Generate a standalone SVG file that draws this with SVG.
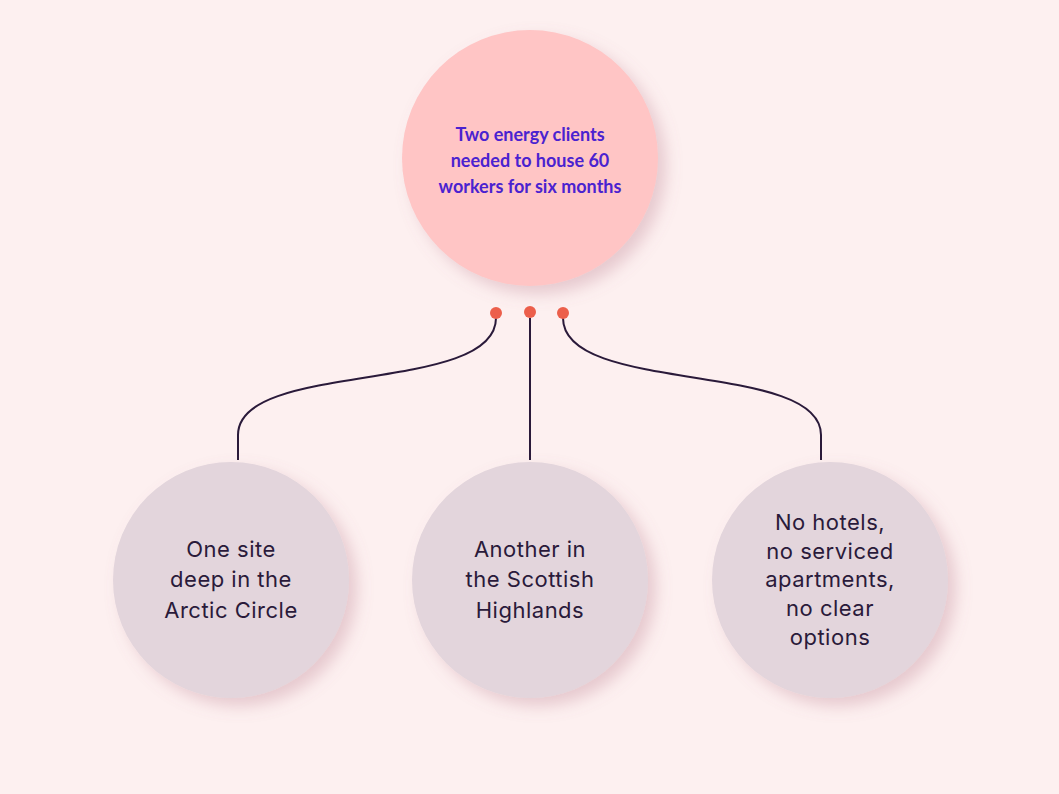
<svg xmlns="http://www.w3.org/2000/svg" width="1059" height="794" viewBox="0 0 1059 794">
<defs>
<filter id="sh" x="-30%" y="-30%" width="160%" height="160%"><feDropShadow dx="8" dy="8" stdDeviation="8" flood-color="#b07080" flood-opacity="0.3"/></filter>
<style>
.top{fill:#ffc5c5;filter:url(#sh)}
.bot{fill:#e3d5dc;filter:url(#sh)}
.tt{font-family:"Lato","Liberation Sans",sans-serif;font-weight:bold;font-size:18px;fill:#4a22d0;text-anchor:middle}
.bt{font-family:"Inter","Liberation Sans",sans-serif;font-size:22px;fill:#2a1a3a;text-anchor:middle;letter-spacing:0.5px}
.c{fill:none;stroke:#2a1a3a;stroke-width:2}
.d{fill:#ec5f4b}
</style>
</defs>
<rect width="1059" height="794" fill="#fdf0f0"/>
<g id="connectors">
<path class="c" d="M496,318 C496,395 238,360 238,435 V460"/>
<path class="c" d="M530,318 V460"/>
<path class="c" d="M563,318 C563,395 821,360 821,435 V460"/>
<circle class="d" cx="496" cy="313" r="6"/>
<circle class="d" cx="530" cy="312" r="6"/>
<circle class="d" cx="563" cy="313" r="6"/>
</g>
<g id="root"><circle class="top" cx="530" cy="158" r="128"/>
<text class="tt"><tspan x="530" y="141">Two energy clients</tspan><tspan x="530" y="167">needed to house 60</tspan><tspan x="530" y="193">workers for six months</tspan></text></g>
<g id="n1"><circle class="bot" cx="231" cy="580" r="118"/>
<text class="bt"><tspan x="231" y="557">One site</tspan><tspan x="231" y="587">deep in the</tspan><tspan x="231" y="618">Arctic Circle</tspan></text></g>
<g id="n2"><circle class="bot" cx="530" cy="580" r="118"/>
<text class="bt"><tspan x="530" y="557">Another in</tspan><tspan x="530" y="587">the Scottish</tspan><tspan x="530" y="618">Highlands</tspan></text></g>
<g id="n3"><circle class="bot" cx="830" cy="580" r="118"/>
<text class="bt"><tspan x="830" y="530">No hotels,</tspan><tspan x="830" y="559">no serviced</tspan><tspan x="830" y="587">apartments,</tspan><tspan x="830" y="616">no clear</tspan><tspan x="830" y="645">options</tspan></text></g>
</svg>
